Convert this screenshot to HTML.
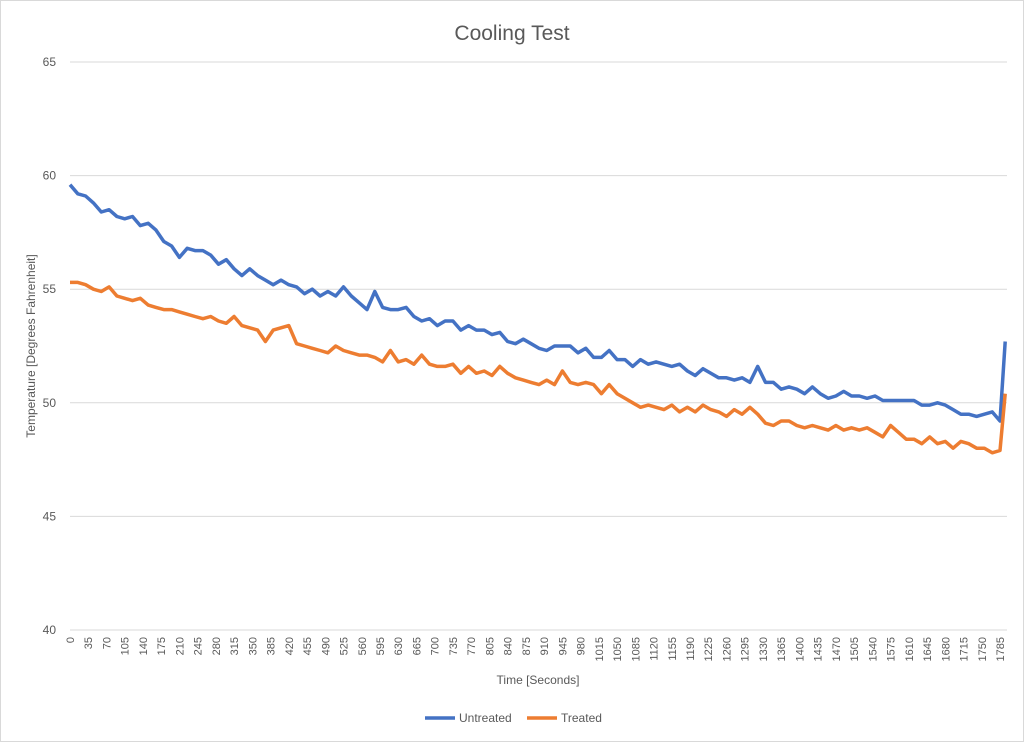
<!DOCTYPE html>
<html><head><meta charset="utf-8"><style>
body{margin:0;background:#fff;}
svg{display:block;font-family:"Liberation Sans",sans-serif;}
</style></head><body>
<svg id="chart" width="1024" height="742">
<rect x="0.5" y="0.5" width="1023" height="741" fill="#fff" stroke="#d9d9d9"/>
<text x="512" y="40" text-anchor="middle" font-size="21" fill="#595959">Cooling Test</text>
<g id="grid"></g><g id="ylabels"></g><g id="xlabels"></g><g id="series"></g>
<text transform="translate(35,346) rotate(-90)" text-anchor="middle" font-size="12" fill="#595959">Temperature [Degrees Fahrenheit]</text>
<text x="538" y="684" text-anchor="middle" font-size="12" fill="#595959">Time [Seconds]</text>
<g>
<line x1="425" y1="718" x2="455" y2="718" stroke="#4472C4" stroke-width="3.5"/>
<text x="459" y="722" font-size="12" fill="#595959">Untreated</text></g>
<g>
<line x1="527" y1="718" x2="557" y2="718" stroke="#ED7D31" stroke-width="3.5"/>
<text x="561" y="722" font-size="12" fill="#595959">Treated</text></g>
</svg>
<script>
const yTicks=[40,45,50,55,60,65];
const xTickLabels=[];for(let t=0;t<=1785;t+=35)xTickLabels.push(t);
const times=[];for(let t=0;t<=1785;t+=15)times.push(t);times.push(1795);
const untreated=[59.6,59.2,59.1,58.8,58.4,58.5,58.2,58.1,58.2,57.8,57.9,57.6,57.1,56.9,56.4,56.8,56.7,56.7,56.5,56.1,56.3,55.9,55.6,55.9,55.6,55.4,55.2,55.4,55.2,55.1,54.8,55.0,54.7,54.9,54.7,55.1,54.7,54.4,54.1,54.9,54.2,54.1,54.1,54.2,53.8,53.6,53.7,53.4,53.6,53.6,53.2,53.4,53.2,53.2,53.0,53.1,52.7,52.6,52.8,52.6,52.4,52.3,52.5,52.5,52.5,52.2,52.4,52.0,52.0,52.3,51.9,51.9,51.6,51.9,51.7,51.8,51.7,51.6,51.7,51.4,51.2,51.5,51.3,51.1,51.1,51.0,51.1,50.9,51.6,50.9,50.9,50.6,50.7,50.6,50.4,50.7,50.4,50.2,50.3,50.5,50.3,50.3,50.2,50.3,50.1,50.1,50.1,50.1,50.1,49.9,49.9,50.0,49.9,49.7,49.5,49.5,49.4,49.5,49.6,49.2,52.7];
const treated=[55.3,55.3,55.2,55.0,54.9,55.1,54.7,54.6,54.5,54.6,54.3,54.2,54.1,54.1,54.0,53.9,53.8,53.7,53.8,53.6,53.5,53.8,53.4,53.3,53.2,52.7,53.2,53.3,53.4,52.6,52.5,52.4,52.3,52.2,52.5,52.3,52.2,52.1,52.1,52.0,51.8,52.3,51.8,51.9,51.7,52.1,51.7,51.6,51.6,51.7,51.3,51.6,51.3,51.4,51.2,51.6,51.3,51.1,51.0,50.9,50.8,51.0,50.8,51.4,50.9,50.8,50.9,50.8,50.4,50.8,50.4,50.2,50.0,49.8,49.9,49.8,49.7,49.9,49.6,49.8,49.6,49.9,49.7,49.6,49.4,49.7,49.5,49.8,49.5,49.1,49.0,49.2,49.2,49.0,48.9,49.0,48.9,48.8,49.0,48.8,48.9,48.8,48.9,48.7,48.5,49.0,48.7,48.4,48.4,48.2,48.5,48.2,48.3,48.0,48.3,48.2,48.0,48.0,47.8,47.9,50.4];
const NS='http://www.w3.org/2000/svg';
const X0=70,XS=(1000-70)/1785,Y0=630,YS=(630-62)/25;
const xPos=t=>X0+t*XS, yPos=v=>Y0-(v-40)*YS;
function mk(tag,attrs,parent){const e=document.createElementNS(NS,tag);for(const k in attrs)e.setAttribute(k,attrs[k]);document.getElementById(parent).appendChild(e);return e;}
yTicks.forEach(v=>{
 const g=mk('line',{x1:70,x2:1007,y1:yPos(v),y2:yPos(v),stroke:'#d9d9d9','stroke-width':1},'grid');
 
 
 const t=mk('text',{x:56,y:yPos(v)+4,'text-anchor':'end','font-size':12,fill:'#595959'},'ylabels');
 t.textContent=v;
 
 
});
xTickLabels.forEach(v=>{
 const t=mk('text',{transform:`translate(${xPos(v)+4},637) rotate(-90)`,'text-anchor':'end','font-size':11,fill:'#595959'},'xlabels');
 t.textContent=v;
 
 
});
[[untreated,'#4472C4','untreated'],[treated,'#ED7D31','treated']].forEach(([d,c,n])=>{
 const p=mk('polyline',{points:d.map((v,i)=>xPos(times[i]).toFixed(1)+','+yPos(v).toFixed(1)).join(' '),fill:'none',stroke:c,'stroke-width':3.5,'stroke-linejoin':'round'},'series');
 
 
});
</script>
</body></html>
